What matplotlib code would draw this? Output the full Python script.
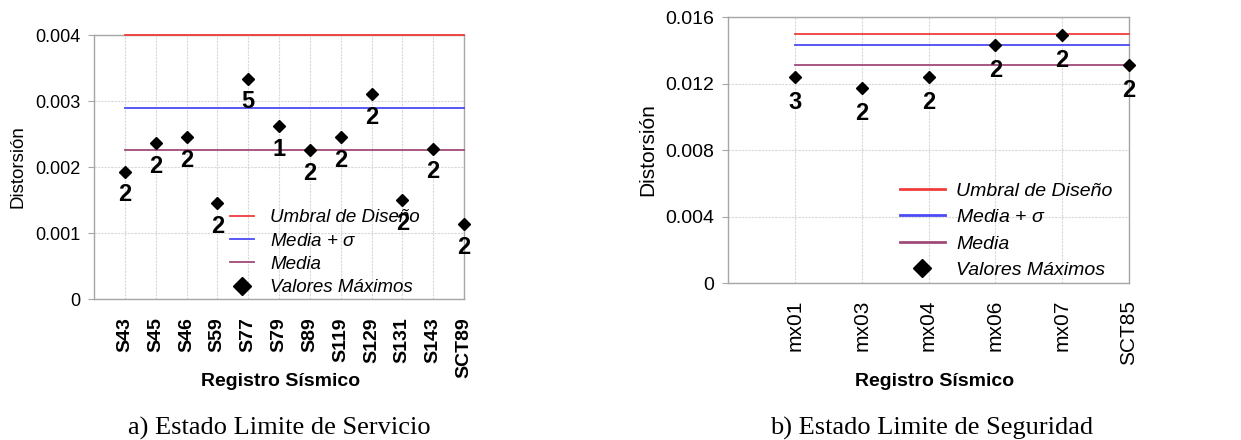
import matplotlib
matplotlib.use("Agg")
import matplotlib.pyplot as plt
from matplotlib.lines import Line2D
from matplotlib import font_manager as fm

# ---------------- data ----------------
reg_a = ["S43", "S45", "S46", "S59", "S77", "S79", "S89", "S119", "S129", "S131", "S143", "SCT89"]
max_a = [0.00193, 0.00236, 0.00246, 0.00145, 0.00334, 0.00262, 0.00226, 0.00245, 0.00311, 0.00150, 0.00228, 0.00114]
cnt_a = ["2", "2", "2", "2", "5", "1", "2", "2", "2", "2", "2", "2"]
umbral_a = 0.004
media_sig_a = 0.00289
media_a = 0.00225
yticks_a = [0, 0.001, 0.002, 0.003, 0.004]
yticklabels_a = ["0", "0.001", "0.002", "0.003", "0.004"]

reg_b = ["mx01", "mx03", "mx04", "mx06", "mx07", "SCT85"]
max_b = [0.0124, 0.0117, 0.0124, 0.0143, 0.0149, 0.0131]
cnt_b = ["3", "2", "2", "2", "2", "2"]
umbral_b = 0.015
media_sig_b = 0.0143
media_b = 0.0131
yticks_b = [0, 0.004, 0.008, 0.012, 0.016]
yticklabels_b = ["0", "0.004", "0.008", "0.012", "0.016"]

legend_labels = ["Umbral de Diseño", "Media + $\\sigma$", "Media", "Valores Máximos"]
captions = ["a) Estado Limite de Servicio", "b) Estado Limite de Seguridad"]
xlabel = "Registro Sísmico"
ylabel = "Distorsión"

# ---------------- fonts ----------------
names = {f.name for f in fm.fontManager.ttflist}
NARROW = "Liberation Sans Narrow" if "Liberation Sans Narrow" in names else None
SANS = "Liberation Sans"
SERIF = "Liberation Serif"
plt.rcParams["font.family"] = [SANS, "DejaVu Sans"]
plt.rcParams["mathtext.fontset"] = "custom"
plt.rcParams["mathtext.it"] = "Liberation Sans:italic"
plt.rcParams["mathtext.rm"] = "Liberation Sans"

if NARROW:
    LBL_FAM, LBL_FS, XL_FS = [NARROW, SANS], 18, 15
else:
    LBL_FAM, LBL_FS, XL_FS = [SANS], 17, 14

RED = "#F03C3C"
BLUE = "#4B4BF5"
MEDIA = "#A04A78"
GRID = "#D8D8D8"
SPINE = "#A6A6A6"

fig = plt.figure(figsize=(12.41, 4.40), dpi=100)
fig.patch.set_facecolor("white")

W, H = 1241.0, 440.0


def make_ax(l, r, t, b):
    return fig.add_axes([l / W, 1 - b / H, (r - l) / W, (b - t) / H])


def draw(ax, regs, vals, cnts, umb, msig, med, yt, ytl, s):
    n = len(regs)
    xs = list(range(1, n + 1))
    ax.set_xlim(0, n)
    ax.set_ylim(yt[0], yt[-1])
    ax.set_yticks(yt)
    ax.set_yticklabels(ytl, fontsize=s["ytick"])
    ax.set_xticks(xs)
    ax.set_xticklabels(regs, rotation=90, fontsize=s["xtick"],
                       fontweight=s["xtick_w"])
    ax.tick_params(axis="x", length=0, pad=s["xpad"])
    ax.tick_params(axis="y", length=4, width=0.8, color=SPINE, pad=6)
    ax.grid(True, color=GRID, linestyle=(0, (2, 1)), linewidth=0.8)
    ax.set_axisbelow(True)
    for sp in ax.spines.values():
        sp.set_color(SPINE)
        sp.set_linewidth(1.0)
    ax.plot(xs, [umb] * n, color=RED, lw=s["lw"], zorder=3, clip_on=False)
    ax.plot(xs, [msig] * n, color=BLUE, lw=s["lw"], zorder=3, clip_on=False)
    ax.plot(xs, [med] * n, color=MEDIA, lw=s["lw"], zorder=3, clip_on=False)
    ax.plot(xs, vals, linestyle="none", marker="D", ms=6, color="black",
            zorder=4, clip_on=False)
    for x, v, c in zip(xs, vals, cnts):
        ax.annotate(c, (x, v), xytext=(0, -s["loff"]), textcoords="offset points",
                    ha="center", va="baseline", fontsize=LBL_FS, fontweight="bold",
                    family=LBL_FAM, zorder=5, annotation_clip=False)
    ax.set_xlabel(xlabel, fontsize=XL_FS, fontweight="bold", family=LBL_FAM)
    ax.xaxis.set_label_coords(*s["xlc"])
    ax.xaxis.label.set_va("center")
    ax.set_ylabel(ylabel, fontsize=s["ylab"], labelpad=s["ylpad"])
    handles = [Line2D([], [], color=RED, lw=s["llw"]),
               Line2D([], [], color=BLUE, lw=s["llw"]),
               Line2D([], [], color=MEDIA, lw=s["llw"]),
               Line2D([], [], color="black", marker="D", ms=9, linestyle="none")]
    ax.legend(handles, legend_labels, loc="upper left", bbox_to_anchor=s["lpos"],
              frameon=False, borderpad=0, borderaxespad=0,
              handlelength=s["hl"], handletextpad=s["htp"],
              labelspacing=s["ls"], prop={"style": "italic", "size": s["lfs"]})


ax1 = make_ax(94, 464, 35, 299)
draw(ax1, reg_a, max_a, cnt_a, umbral_a, media_sig_a, media_a, yticks_a, yticklabels_a,
     dict(ytick=13, xtick=14, xtick_w="bold", xpad=13, lw=1.3, loff=21.5,
          xlc=(0.503, -0.314), ylab=13.5, ylpad=6, llw=1.3, lpos=(0.3676, 0.34),
          hl=1.3, htp=0.85, ls=0.33, lfs=13.5))

ax2 = make_ax(728, 1129, 17, 283)
draw(ax2, reg_b, max_b, cnt_b, umbral_b, media_sig_b, media_b, yticks_b, yticklabels_b,
     dict(ytick=14, xtick=15, xtick_w="normal", xpad=12, lw=1.3, loff=23,
          xlc=(0.516, -0.372), ylab=15, ylpad=6, llw=2.0, lpos=(0.429, 0.38),
          hl=2.3, htp=0.6, ls=0.46, lfs=14))

fig.text(279 / W, 1 - 435 / H, captions[0], family=[SERIF], fontsize=19,
         ha="center", va="baseline")
fig.text(932 / W, 1 - 435 / H, captions[1], family=[SERIF], fontsize=19,
         ha="center", va="baseline")

fig.savefig("out.png", dpi=100, facecolor="white")
